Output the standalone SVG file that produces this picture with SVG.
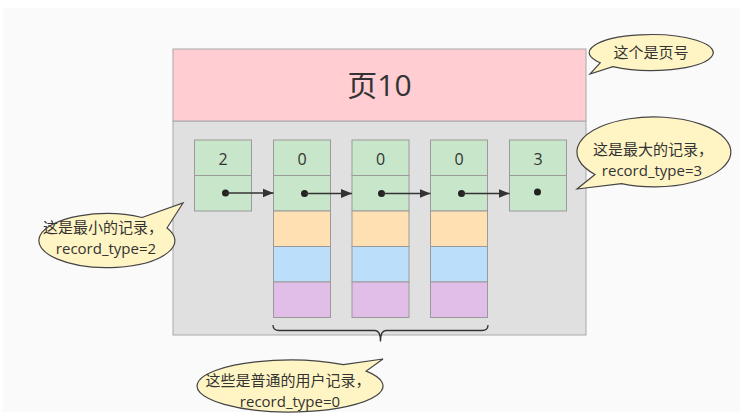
<svg xmlns="http://www.w3.org/2000/svg" width="743" height="418" viewBox="0 0 743 418">
<defs>
<style>
.cell{stroke:#9a9a9a;stroke-width:1}
.g{fill:#c8e6c9}.o{fill:#ffe0b2}.b{fill:#bbdefb}.p{fill:#e1bee7}
.num{font-family:"Open Sans","Noto Sans","Noto Sans CJK SC",sans-serif;font-size:16px;fill:#333;text-anchor:middle}
.conn{stroke:#333;stroke-width:1.3;fill:none}
.dot{fill:#222}
.call{fill:#fff5c4;stroke:#444;stroke-width:1.2}
.ct{font-family:"Open Sans","Noto Sans CJK SC",sans-serif;font-size:15px;fill:#333;text-anchor:middle}
</style>
<marker id="ah" markerWidth="12" markerHeight="10" refX="11" refY="5" orient="auto" markerUnits="userSpaceOnUse">
<path d="M0,0.5 L11,5 L0,9.5 Z" fill="#333"/>
</marker>
</defs>
<rect x="0" y="0" width="743" height="418" fill="#ffffff"/>
<rect x="3" y="8" width="737" height="404" fill="#fafafa"/>

<g id="page">
<rect x="173" y="121" width="413" height="214" fill="#e0e0e0" stroke="#a8a8a8"/>
<rect x="173" y="49" width="413" height="72" fill="#ffcdd2" stroke="#a8a8a8"/>
<text x="379.5" y="96" font-family="Open Sans,'Noto Sans CJK SC',sans-serif" font-size="30" fill="#333" text-anchor="middle">页10</text>
</g>

<g id="rec-min">
<rect class="cell g" x="194.5" y="140" width="57" height="35.5"/>
<rect class="cell g" x="194.5" y="175.5" width="57" height="35.5"/>
<text class="num" x="223" y="165">2</text>
<circle class="dot" cx="225.5" cy="193" r="3.5"/>
</g>
<g id="rec-1">
<rect class="cell g" x="273.5" y="140" width="57" height="35.5"/>
<rect class="cell g" x="273.5" y="175.5" width="57" height="35.5"/>
<rect class="cell o" x="273.5" y="211" width="57" height="35.5"/>
<rect class="cell b" x="273.5" y="246.5" width="57" height="35.5"/>
<rect class="cell p" x="273.5" y="282" width="57" height="35.5"/>
<text class="num" x="302" y="165">0</text>
<circle class="dot" cx="304.5" cy="193.5" r="3.5"/>
</g>
<g id="rec-2">
<rect class="cell g" x="352" y="140" width="57" height="35.5"/>
<rect class="cell g" x="352" y="175.5" width="57" height="35.5"/>
<rect class="cell o" x="352" y="211" width="57" height="35.5"/>
<rect class="cell b" x="352" y="246.5" width="57" height="35.5"/>
<rect class="cell p" x="352" y="282" width="57" height="35.5"/>
<text class="num" x="380.5" y="165">0</text>
<circle class="dot" cx="381.5" cy="193.5" r="3.5"/>
</g>
<g id="rec-3">
<rect class="cell g" x="430.5" y="140" width="57" height="35.5"/>
<rect class="cell g" x="430.5" y="175.5" width="57" height="35.5"/>
<rect class="cell o" x="430.5" y="211" width="57" height="35.5"/>
<rect class="cell b" x="430.5" y="246.5" width="57" height="35.5"/>
<rect class="cell p" x="430.5" y="282" width="57" height="35.5"/>
<text class="num" x="459" y="165">0</text>
<circle class="dot" cx="461.5" cy="193.5" r="3.5"/>
</g>
<g id="rec-max">
<rect class="cell g" x="509.5" y="140" width="57" height="35.5"/>
<rect class="cell g" x="509.5" y="175.5" width="57" height="35.5"/>
<text class="num" x="538" y="165">3</text>
<circle class="dot" cx="537.5" cy="192" r="3.5"/>
</g>

<g id="connectors">
<line class="conn" x1="225.5" y1="193" x2="273.5" y2="193" marker-end="url(#ah)"/>
<line class="conn" x1="304.5" y1="193.5" x2="352" y2="193.5" marker-end="url(#ah)"/>
<line class="conn" x1="381.5" y1="193.5" x2="430.5" y2="193.5" marker-end="url(#ah)"/>
<line class="conn" x1="461.5" y1="193.5" x2="509.5" y2="193.5" marker-end="url(#ah)"/>
<path class="conn" d="M273,325 Q273,330.5 279,330.5 L375,330.5 Q380.5,330.5 380.5,341.5 Q380.5,330.5 386,330.5 L482,330.5 Q488,330.5 488,325"/>
</g>

<g id="callout-page">
<path class="call" d="M600.2,62.8 L590,74 L612.8,66.7 A62,18 0 1 0 600.2,62.8 Z"/>
<text class="ct" x="651" y="58">这个是页号</text>
</g>
<g id="callout-max">
<path class="call" d="M595,174.5 L577,189 L621.5,183.7 A77,35 0 1 0 595,174.5 Z"/>
<text class="ct" x="653" y="155">这是最大的记录，</text>
<text class="ct" x="652" y="176">record_type=3</text>
</g>
<g id="callout-min">
<path class="call" d="M142,217.5 L183,203 L167,228 A68,27 0 1 1 142,217.5 Z"/>
<text class="ct" x="103" y="233">这是最小的记录，</text>
<text class="ct" x="106" y="254">record_type=2</text>
</g>
<g id="callout-user">
<path class="call" d="M343.3,364.7 L383,359 L366.2,371.1 A93,26 0 1 1 343.3,364.7 Z"/>
<text class="ct" x="288" y="386">这些是普通的用户记录，</text>
<text class="ct" x="290" y="407">record_type=0</text>
</g>
</svg>
